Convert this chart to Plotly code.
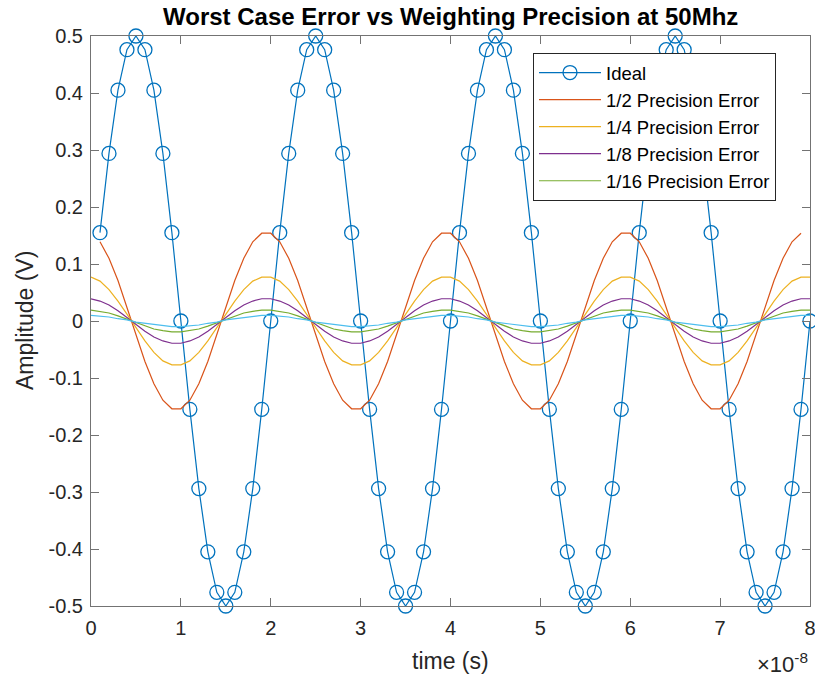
import plotly.graph_objects as go

# ---------------- data ----------------
# time samples (seconds)
t_ideal = [k * 1e-9 for k in range(1, 81)]      # 1 ns .. 80 ns
t_half = [k * 1e-9 for k in range(1, 80)]       # 1 ns .. 79 ns
t_err = [k * 1e-9 for k in range(0, 81)]        # 0 ns .. 80 ns

ideal = [
    0.155, 0.294, 0.405, 0.476, 0.5, 0.476, 0.405, 0.294, 0.155, 0.0,
    -0.155, -0.294, -0.405, -0.476, -0.5, -0.476, -0.405, -0.294, -0.155, 0.0,
    0.155, 0.294, 0.405, 0.476, 0.5, 0.476, 0.405, 0.294, 0.155, 0.0,
    -0.155, -0.294, -0.405, -0.476, -0.5, -0.476, -0.405, -0.294, -0.155, 0.0,
    0.155, 0.294, 0.405, 0.476, 0.5, 0.476, 0.405, 0.294, 0.155, 0.0,
    -0.155, -0.294, -0.405, -0.476, -0.5, -0.476, -0.405, -0.294, -0.155, 0.0,
    0.155, 0.294, 0.405, 0.476, 0.5, 0.476, 0.405, 0.294, 0.155, 0.0,
    -0.155, -0.294, -0.405, -0.476, -0.5, -0.476, -0.405, -0.294, -0.155, 0.0,
]

err_half = [
    0.139, 0.110, 0.071, 0.024, -0.024, -0.071, -0.110, -0.139, -0.154,
    -0.154, -0.139, -0.110, -0.071, -0.024, 0.024, 0.071, 0.110, 0.139, 0.154,
    0.154, 0.139, 0.110, 0.071, 0.024, -0.024, -0.071, -0.110, -0.139, -0.154,
    -0.154, -0.139, -0.110, -0.071, -0.024, 0.024, 0.071, 0.110, 0.139, 0.154,
    0.154, 0.139, 0.110, 0.071, 0.024, -0.024, -0.071, -0.110, -0.139, -0.154,
    -0.154, -0.139, -0.110, -0.071, -0.024, 0.024, 0.071, 0.110, 0.139, 0.154,
    0.154, 0.139, 0.110, 0.071, 0.024, -0.024, -0.071, -0.110, -0.139, -0.154,
    -0.154, -0.139, -0.110, -0.071, -0.024, 0.024, 0.071, 0.110, 0.139, 0.154,
]

err_quarter = [
    0.077, 0.070, 0.055, 0.035, 0.012, -0.012, -0.035, -0.055, -0.070, -0.077,
    -0.077, -0.070, -0.055, -0.035, -0.012, 0.012, 0.035, 0.055, 0.070, 0.077,
    0.077, 0.070, 0.055, 0.035, 0.012, -0.012, -0.035, -0.055, -0.070, -0.077,
    -0.077, -0.070, -0.055, -0.035, -0.012, 0.012, 0.035, 0.055, 0.070, 0.077,
    0.077, 0.070, 0.055, 0.035, 0.012, -0.012, -0.035, -0.055, -0.070, -0.077,
    -0.077, -0.070, -0.055, -0.035, -0.012, 0.012, 0.035, 0.055, 0.070, 0.077,
    0.077, 0.070, 0.055, 0.035, 0.012, -0.012, -0.035, -0.055, -0.070, -0.077,
    -0.077, -0.070, -0.055, -0.035, -0.012, 0.012, 0.035, 0.055, 0.070, 0.077,
    0.077,
]

err_eighth = [
    0.039, 0.035, 0.028, 0.018, 0.006, -0.006, -0.018, -0.028, -0.035, -0.039,
    -0.039, -0.035, -0.028, -0.018, -0.006, 0.006, 0.018, 0.028, 0.035, 0.039,
    0.039, 0.035, 0.028, 0.018, 0.006, -0.006, -0.018, -0.028, -0.035, -0.039,
    -0.039, -0.035, -0.028, -0.018, -0.006, 0.006, 0.018, 0.028, 0.035, 0.039,
    0.039, 0.035, 0.028, 0.018, 0.006, -0.006, -0.018, -0.028, -0.035, -0.039,
    -0.039, -0.035, -0.028, -0.018, -0.006, 0.006, 0.018, 0.028, 0.035, 0.039,
    0.039, 0.035, 0.028, 0.018, 0.006, -0.006, -0.018, -0.028, -0.035, -0.039,
    -0.039, -0.035, -0.028, -0.018, -0.006, 0.006, 0.018, 0.028, 0.035, 0.039,
    0.039,
]

err_sixteenth = [
    0.019, 0.017, 0.014, 0.009, 0.003, -0.003, -0.009, -0.014, -0.017, -0.019,
    -0.019, -0.017, -0.014, -0.009, -0.003, 0.003, 0.009, 0.014, 0.017, 0.019,
    0.019, 0.017, 0.014, 0.009, 0.003, -0.003, -0.009, -0.014, -0.017, -0.019,
    -0.019, -0.017, -0.014, -0.009, -0.003, 0.003, 0.009, 0.014, 0.017, 0.019,
    0.019, 0.017, 0.014, 0.009, 0.003, -0.003, -0.009, -0.014, -0.017, -0.019,
    -0.019, -0.017, -0.014, -0.009, -0.003, 0.003, 0.009, 0.014, 0.017, 0.019,
    0.019, 0.017, 0.014, 0.009, 0.003, -0.003, -0.009, -0.014, -0.017, -0.019,
    -0.019, -0.017, -0.014, -0.009, -0.003, 0.003, 0.009, 0.014, 0.017, 0.019,
    0.019,
]

err_32nd = [
    0.010, 0.009, 0.007, 0.004, 0.002, -0.002, -0.004, -0.007, -0.009, -0.010,
    -0.010, -0.009, -0.007, -0.004, -0.002, 0.002, 0.004, 0.007, 0.009, 0.010,
    0.010, 0.009, 0.007, 0.004, 0.002, -0.002, -0.004, -0.007, -0.009, -0.010,
    -0.010, -0.009, -0.007, -0.004, -0.002, 0.002, 0.004, 0.007, 0.009, 0.010,
    0.010, 0.009, 0.007, 0.004, 0.002, -0.002, -0.004, -0.007, -0.009, -0.010,
    -0.010, -0.009, -0.007, -0.004, -0.002, 0.002, 0.004, 0.007, 0.009, 0.010,
    0.010, 0.009, 0.007, 0.004, 0.002, -0.002, -0.004, -0.007, -0.009, -0.010,
    -0.010, -0.009, -0.007, -0.004, -0.002, 0.002, 0.004, 0.007, 0.009, 0.010,
    0.010,
]

x_tick_vals = [k * 1e-8 for k in range(0, 9)]
x_tick_text = ["0", "1", "2", "3", "4", "5", "6", "7", "8"]
y_tick_vals = [-0.5, -0.4, -0.3, -0.2, -0.1, 0, 0.1, 0.2, 0.3, 0.4, 0.5]
y_tick_text = ["-0.5", "-0.4", "-0.3", "-0.2", "-0.1", "0", "0.1", "0.2", "0.3", "0.4", "0.5"]

# ---------------- figure ----------------
FONT = "Liberation Sans, Arial, sans-serif"
TXT = "#262626"
AX = "#737373"

fig = go.Figure()
fig.add_trace(go.Scatter(
    x=t_ideal, y=ideal, name="Ideal", mode="lines+markers",
    line=dict(color="#0072BD", width=1.2),
    marker=dict(symbol="circle-open", size=14, color="#0072BD", line=dict(width=1.3)),
    cliponaxis=False))
fig.add_trace(go.Scatter(x=t_half, y=err_half, name="1/2 Precision Error", mode="lines",
                         line=dict(color="#D95319", width=1.2)))
fig.add_trace(go.Scatter(x=t_err, y=err_quarter, name="1/4 Precision Error", mode="lines",
                         line=dict(color="#EDB120", width=1.2)))
fig.add_trace(go.Scatter(x=t_err, y=err_eighth, name="1/8 Precision Error", mode="lines",
                         line=dict(color="#7E2F8E", width=1.2)))
fig.add_trace(go.Scatter(x=t_err, y=err_sixteenth, name="1/16 Precision Error", mode="lines",
                         line=dict(color="#77AC30", width=1.2)))
fig.add_trace(go.Scatter(x=t_err, y=err_32nd, name="1/32 Precision Error", mode="lines",
                         line=dict(color="#4DBEEE", width=1.2), showlegend=False))

axis_common = dict(
    showline=True, linecolor=AX, linewidth=1, mirror="ticks",
    ticks="inside", ticklen=8, tickcolor=AX, tickwidth=1,
    showgrid=False, zeroline=False, automargin=False,
    ticklabeloverflow="allow",
    tickfont=dict(family=FONT, size=20, color=TXT),
)

fig.update_layout(
    width=815, height=677,
    margin=dict(l=91, r=5, t=36, b=71),
    paper_bgcolor="white", plot_bgcolor="white",
    title=dict(text="<b>Worst Case Error vs Weighting Precision at 50Mhz</b>",
               x=0.553, xanchor="center", y=1 - 17 / 677, yanchor="middle",
               font=dict(family=FONT, size=24, color="black")),
    xaxis=dict(range=[0, 8e-8], tickvals=x_tick_vals, ticktext=x_tick_text,
               ticklabelstandoff=4, **axis_common),
    yaxis=dict(range=[-0.5, 0.5], tickvals=y_tick_vals, ticktext=y_tick_text,
               ticklabelstandoff=3, **axis_common),
    legend=dict(x=(533 - 91) / 719, y=(606 - 53) / 570, xanchor="left", yanchor="top",
                bgcolor="white", bordercolor="#262626", borderwidth=1,
                font=dict(family=FONT, size=18.5, color="black"),
                itemwidth=62),
    showlegend=True,
)

# axis titles
fig.add_annotation(text="time (s)", xref="paper", yref="paper",
                   x=0.5, y=(606 - 661) / 570, xanchor="center", yanchor="middle",
                   showarrow=False, font=dict(family=FONT, size=23, color=TXT))
fig.add_annotation(text="Amplitude (V)", xref="paper", yref="paper",
                   x=(25 - 91) / 719, y=0.5, xanchor="center", yanchor="middle", textangle=-90,
                   showarrow=False, font=dict(family=FONT, size=23, color=TXT))
fig.add_annotation(text="×10<sup>-8</sup>", xref="paper", yref="paper",
                   x=(810 - 91) / 719, y=(606 - 663) / 570, xanchor="right", yanchor="middle",
                   showarrow=False, font=dict(family=FONT, size=22, color=TXT))

fig.write_html("out.html")
